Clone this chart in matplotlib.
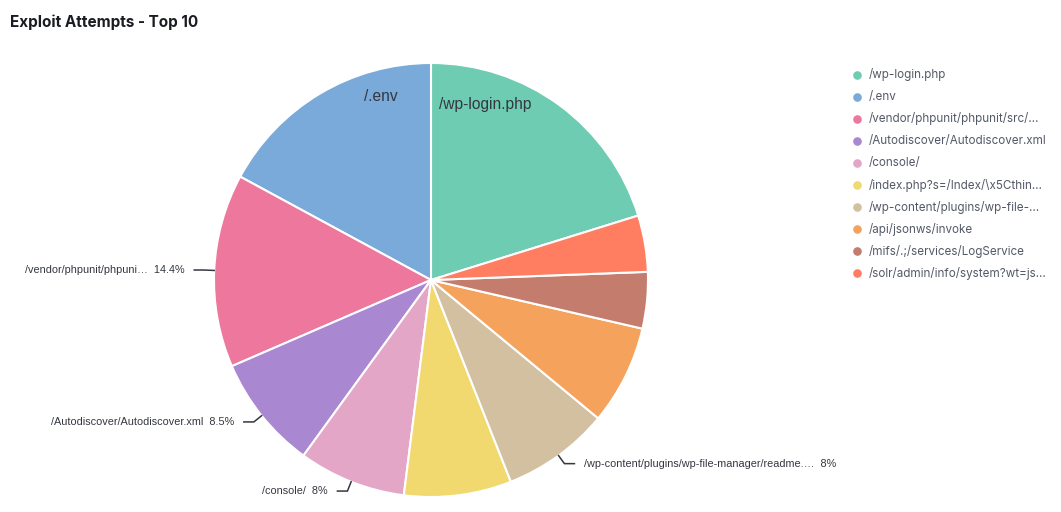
import matplotlib
matplotlib.use("Agg")
import matplotlib.pyplot as plt
from matplotlib.lines import Line2D
import numpy as np

# ---- data ----
legend_labels = [
    "/wp-login.php",
    "/.env",
    "/vendor/phpunit/phpunit/src/…",
    "/Autodiscover/Autodiscover.xml",
    "/console/",
    "/index.php?s=/Index/\\x5Cthin…",
    "/wp-content/plugins/wp-file-…",
    "/api/jsonws/invoke",
    "/mifs/.;/services/LogService",
    "/solr/admin/info/system?wt=js…",
]
slice_labels = [
    "/wp-login.php",
    "/.env",
    "/vendor/phpunit/phpuni…",
    "/Autodiscover/Autodiscover.xml",
    "/console/",
    "/index.php?s=/Index/\\x5Cthin…",
    "/wp-content/plugins/wp-file-manager/readme.…",
    "/api/jsonws/invoke",
    "/mifs/.;/services/LogService",
    "/solr/admin/info/system?wt=js…",
]
values = [20.2, 17.1, 14.4, 8.5, 8.0, 8.0, 8.0, 7.4, 4.2, 4.2]
label_modes = ["inside", "inside", "outside", "outside", "outside",
               "none", "outside", "none", "none", "none"]
colors = ["#6DCCB1", "#79AAD9", "#EE789D", "#A987D1", "#E4A6C7",
          "#F1D86F", "#D2C0A0", "#F5A35C", "#C47C6C", "#FF7E62"]
title = "Exploit Attempts - Top 10"

# ---- layout ----
W, H = 1061, 512
fig = plt.figure(figsize=(W / 100, H / 100), dpi=100)
fig.patch.set_facecolor("white")

cx, cy, R = 431, 280, 217
ax = fig.add_axes([(cx - R) / W, (H - cy - R) / H, 2 * R / W, 2 * R / H])

total = sum(values)
start = 90 - 360 * values[0] / total
wedges, _ = ax.pie(values, colors=colors, startangle=start, counterclock=True,
                   radius=1, center=(0, 0),
                   wedgeprops=dict(edgecolor="white", linewidth=1.5))
ax.set_xlim(-1, 1)
ax.set_ylim(-1, 1)
ax.set_aspect("equal")
ax.axis("off")

px = 1.0 / R  # one pixel in data units


def fmt_pct(v):
    s = f"{100 * v / total:.1f}".rstrip("0").rstrip(".")
    return s + "%"


for w, lab, mode, v in zip(wedges, slice_labels, label_modes, values):
    t1, t2 = w.theta1, w.theta2
    if mode == "inside":
        # place near the boundary closest to 12 o'clock
        if abs(((t2 - 90) + 180) % 360 - 180) < abs(((t1 - 90) + 180) % 360 - 180):
            a = t2 - 0.235 * (t2 - t1)
            r = 0.845
        else:
            a = t1 + 0.25 * (t2 - t1)
            r = 0.875
        ax.text(r * np.cos(np.radians(a)), r * np.sin(np.radians(a)), lab,
                ha="center", va="center", fontsize=11.2,
                family="Liberation Sans", color="#343741")
    elif mode == "outside":
        a = np.radians((t1 + t2) / 2)
        x0, y0 = np.cos(a), np.sin(a)
        x1, y1 = (1 + 10 * px) * np.cos(a), (1 + 10 * px) * np.sin(a)
        side = 1 if x0 >= 0 else -1
        x2 = x1 + side * 10 * px
        ax.plot([x0, x1, x2], [y0, y1, y1], color="#343741", lw=1.1,
                clip_on=False, solid_joinstyle="miter")
        ax.text(x2 + side * 10 * px, y1, lab + "  " + fmt_pct(v),
                ha="left" if side > 0 else "right", va="center",
                fontsize=7.8, family="Liberation Sans", color="#343741",
                clip_on=False)

# title
fig.text(10 / W, 1 - 22 / H, title, ha="left", va="center", fontsize=11,
         fontweight="bold", family="Inter", color="#1a1c21")

# legend (manual rows)
row0, dy = 74.5, 22.1
for i, (lab, c) in enumerate(zip(legend_labels, colors)):
    y = row0 + i * dy
    fig.add_artist(Line2D([857 / W], [1 - y / H], transform=fig.transFigure,
                          marker="o", markersize=6.2, markerfacecolor=c,
                          markeredgecolor="none", linestyle="none"))
    fig.text(869 / W, 1 - y / H, lab, ha="left", va="center", fontsize=8.4,
             family="Inter", color="#535966")

fig.savefig("out.png", dpi=100)
